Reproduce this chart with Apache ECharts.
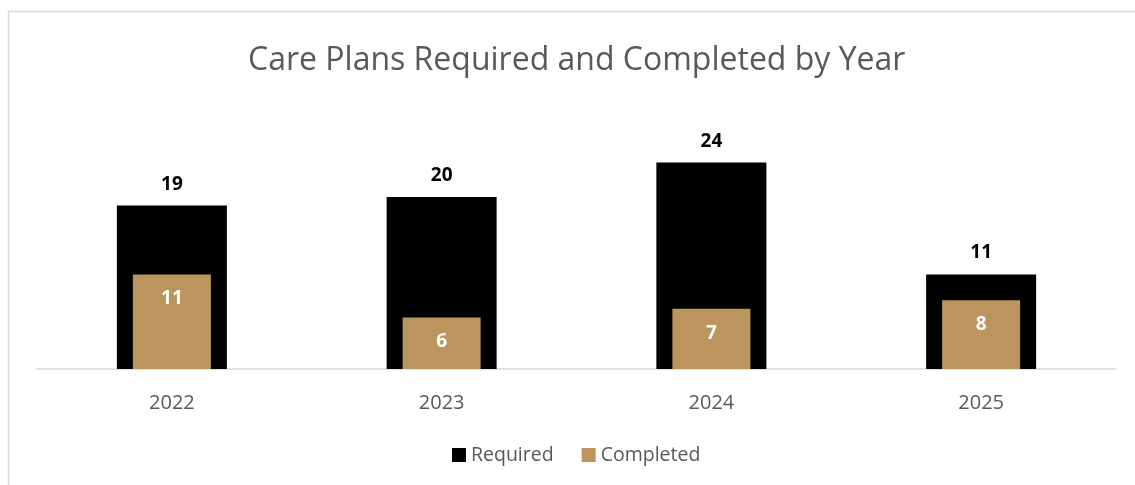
<!DOCTYPE html>
<html>
<head>
<meta charset="utf-8">
<title>Care Plans</title>
<script src="https://cdn.jsdelivr.net/npm/echarts@6/dist/echarts.min.js"></script>
<style>
  html, body { margin: 0; padding: 0; background: #fff; }
  #chart { width: 1135px; height: 485px; }
</style>
</head>
<body>
<div id="chart"></div>
<script>
var years = ['2022', '2023', '2024', '2025'];
var required = [19, 20, 24, 11];
var completed = [11, 6, 7, 8];

var myChart = echarts.init(document.getElementById('chart'));

var font = 'Open Sans';
var option = {
    animation: false,
    title: {
        text: 'Care Plans Required and Completed by Year',
        left: 243,
        top: 40,
        textStyle: { fontFamily: font, fontSize: 32, fontWeight: 'normal', color: '#595959' }
    },
    // chart frame
    graphic: [{
        type: 'rect',
        shape: { x: 8.5, y: 11.5, width: 1200, height: 600 },
        style: { fill: 'none', stroke: '#d9d9d9', lineWidth: 1.5 },
        silent: true
    }],
    legend: {
        bottom: 15,
        left: 447,
        itemWidth: 14,
        itemHeight: 14,
        itemGap: 28,
        icon: 'rect',
        textStyle: { fontFamily: font, fontSize: 19.5, color: '#595959' },
        data: ['Required', 'Completed']
    },
    grid: { left: 37, right: 19, top: 111, bottom: 116 },
    xAxis: [{
        type: 'category',
        data: years,
        axisLine: { lineStyle: { color: '#d9d9d9', width: 1.5 } },
        axisTick: { show: false },
        axisLabel: { fontFamily: font, fontSize: 20, color: '#595959', margin: 24 }
    }, {
        type: 'category',
        data: years,
        show: false
    }],
    yAxis: {
        type: 'value',
        min: 0,
        max: 30,
        show: false,
        splitLine: { show: false }
    },
    series: [{
        name: 'Required',
        type: 'bar',
        xAxisIndex: 0,
        data: required,
        barWidth: 110,
        itemStyle: { color: '#000000' },
        label: {
            show: true, position: 'top', distance: 12,
            fontFamily: font, fontSize: 19, fontWeight: 'bold', color: '#000'
        }
    }, {
        name: 'Completed',
        type: 'bar',
        xAxisIndex: 1,
        data: completed,
        barWidth: 78,
        itemStyle: { color: '#bb955d' },
        label: {
            show: true, position: 'insideTop', distance: 15,
            fontFamily: font, fontSize: 19, fontWeight: 'bold', color: '#fff'
        }
    }]
};
myChart.setOption(option);
</script>
</body>
</html>
